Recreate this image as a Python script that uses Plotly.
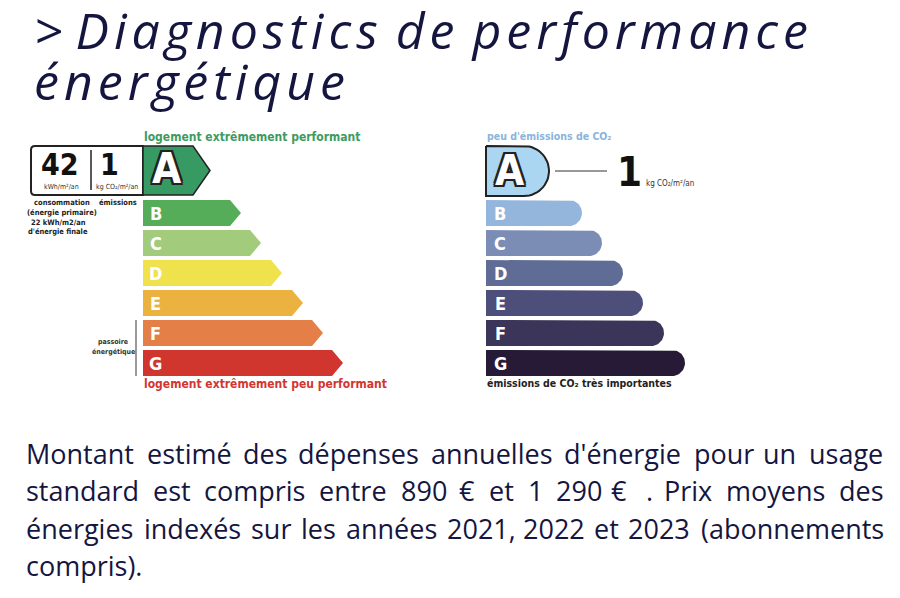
import numpy as np
import plotly.graph_objects as go

# DPE labels: classes and bar lengths (label units)
classes = ["A", "B", "C", "D", "E", "F", "G"]
energy_length = [67, 98, 118, 139, 160, 180, 200]
co2_length = [63, 96, 116, 137, 157, 178, 199]

energy_value = 42       # kWh/m²/an (énergie primaire)
co2_value = 1           # kg CO2/m²/an
final_energy = 22       # kWh/m2/an (énergie finale)

title_lines = ["> Diagnostics de performance", "énergétique"]

body_words = [
    ["Montant", "estimé", "des", "dépenses", "annuelles", "d'énergie", "pour", "un", "usage"],
    ["standard", "est", "compris", "entre", "890", "€", "et", "1", "290", "€", ".", "Prix", "moyens", "des"],
    ["énergies", "indexés", "sur", "les", "années", "2021,", "2022", "et", "2023", "(abonnements"],
    ["compris)."],
]
# left edge of each word (justified paragraph)
body_word_x = [
    [25, 146, 242, 297, 430, 563, 693, 762, 808],
    [25, 152, 203, 318, 400, 458, 488, 527, 555, 610, 645, 663, 725, 838],
    [25, 143, 250, 300, 345, 446, 522, 593, 627, 700],
    [25],
]

energy_colors = ["#389a63", "#55ad5a", "#a3cb7c", "#f0e24c", "#ecb23f", "#e37f47", "#d0362e"]
co2_colors = ["#aad6f2", "#94b6dc", "#7c8db5", "#5e6c96", "#4d4e7a", "#3a3559", "#261a37"]

NAVY = "#15163f"
INK = "#222222"
LABEL_FONT = "DejaVu Sans Condensed, DejaVu Sans, Roboto"
OUTLINE = ", ".join(f"{dx}px {dy}px 0 {INK}" for dx, dy in
                    [(-2, -2), (2, -2), (-2, 2), (2, 2), (0, 2), (2, 0), (0, -2), (-2, 0)])

E_X0 = 143
C_X0 = 486
PAGE = 8   # default body margin of the html page


def row_span(i):
    if i == 0:
        return 146, 195
    top = 200 + 30 * (i - 1)
    return top, top + 26


def spaced(s):
    # imitate the wide letter spacing of the heading with hair spaces
    out = ""
    for i, ch in enumerate(s):
        out += ch
        if i < len(s) - 1 and ch not in " >":
            out += "\u200a"
    return out


fig = go.Figure()

# energy arrows
for i, (cls, length) in enumerate(zip(classes, energy_length)):
    top, bot = row_span(i)
    tip = 17 if i == 0 else 11
    mid = (top + bot) / 2
    xs = [E_X0, E_X0 + length - tip, E_X0 + length, E_X0 + length - tip, E_X0, E_X0]
    ys = [top, top, mid, bot, bot, top]
    fig.add_trace(go.Scatter(
        x=xs, y=ys, mode="lines", fill="toself",
        fillcolor=energy_colors[i],
        line=dict(color=INK if i == 0 else energy_colors[i], width=1.5 if i == 0 else 0),
        hoverinfo="skip", showlegend=False))

# CO2 rounded bars
for i, (cls, length) in enumerate(zip(classes, co2_length)):
    top, bot = row_span(i)
    if i == 0:
        bot = 196
    r = (bot - top) / 2
    mid = (top + bot) / 2
    cx = C_X0 + length - r
    a = np.linspace(-np.pi / 2, np.pi / 2, 30)
    xs = [C_X0] + list(cx + r * np.cos(a)) + [C_X0, C_X0]
    ys = [top] + list(mid + r * np.sin(a)) + [bot, top]
    fig.add_trace(go.Scatter(
        x=xs, y=ys, mode="lines", fill="toself",
        fillcolor=co2_colors[i],
        line=dict(color=INK if i == 0 else co2_colors[i], width=2 if i == 0 else 0),
        hoverinfo="skip", showlegend=False))

ann = []


def txt(x, y, s, size, color=INK, bold=False, xanchor="left", family=LABEL_FONT, **font_kw):
    ann.append(dict(x=x, y=y, text=s, showarrow=False, xref="x", yref="y",
                    xanchor=xanchor, yanchor="middle", borderpad=0,
                    font=dict(family=family, size=size, color=color,
                              weight="bold" if bold else "normal", **font_kw)))


# title
for line, yc in zip(title_lines, [29.5, 81]):
    txt(33, yc, spaced(line), 50, NAVY, family="Open Sans", style="italic")

# class letters
for i, cls in enumerate(classes):
    top, bot = row_span(i)
    if i == 0:
        txt(167, 168, cls, 42, "white", True, "center", shadow=OUTLINE)
        txt(510, 170, cls, 42, "white", True, "center", shadow=OUTLINE)
    else:
        txt(155.5, (top + bot) / 2, cls, 18, "white", True, "center")
        txt(500, (top + bot) / 2, cls, 18, "white", True, "center")

# energy label texts
txt(E_X0, 137, "logement extrêmement performant", 12, "#3d9b5f", True)
txt(E_X0, 384, "logement extrêmement peu performant", 12, "#d4352f", True)
txt(60, 164, str(energy_value), 30, "#111111", True, "center")
txt(109, 164, str(co2_value), 30, "#111111", True, "center")
txt(61, 187, "kWh/m²/an", 7, "#333333", False, "center")
txt(117, 187, "kg CO₂/m²/an", 7, "#333333", False, "center")
txt(62, 202, "consommation", 7.5, INK, True, "center")
txt(62, 212, "(énergie primaire)", 7.5, INK, True, "center")
txt(58, 222, f"{final_energy} kWh/m2/an", 7.5, INK, True, "center")
txt(58, 231, "d'énergie finale", 7.5, INK, True, "center")
txt(118, 202, "émissions", 7.5, INK, True, "center")
txt(113, 342, "passoire", 7, "#333333", True, "center")
txt(113, 352, "énergétique", 7, "#333333", True, "center")

# CO2 label texts
txt(C_X0, 136, "peu d'émissions de CO₂", 10.5, "#8ab4dc", True)
txt(C_X0, 383, "émissions de CO₂ très importantes", 10.5, INK, True)
txt(629, 172, str(co2_value), 40, "#111111", True, "center")
txt(645, 183, "kg CO₂/m²/an", 8, "#333333")

# paragraph
line_centers = [453, 490, 528, 565]
for words, xs, yc in zip(body_words, body_word_x, line_centers):
    for w, x in zip(words, xs):
        txt(x, yc, w, 27, NAVY, family="Open Sans")

shapes = [
    # consumption box
    dict(type="path", xref="x", yref="y", layer="below",
         path="M 35,146 L 143,146 L 143,195 L 35,195 Q 31,195 31,191 L 31,150 Q 31,146 35,146 Z",
         line=dict(color=INK, width=2), fillcolor="white"),
    dict(type="line", xref="x", yref="y", x0=91, x1=91, y0=150, y1=190,
         line=dict(color=INK, width=1.5)),
    dict(type="line", xref="x", yref="y", x0=136, x1=136, y0=320, y1=376,
         line=dict(color="#9a9a9a", width=2)),
    dict(type="line", xref="x", yref="y", x0=555, x1=607, y0=171, y1=171,
         line=dict(color="#333333", width=1)),
]

fig.update_layout(
    width=900 - PAGE, height=598 - PAGE,
    margin=dict(l=0, r=0, t=0, b=0),
    paper_bgcolor="white", plot_bgcolor="white",
    xaxis=dict(range=[PAGE, 900], visible=False, fixedrange=True),
    yaxis=dict(range=[598, PAGE], visible=False, fixedrange=True),
    annotations=ann, shapes=shapes,
)

fig.write_html("out.html", config={"displayModeBar": False})
